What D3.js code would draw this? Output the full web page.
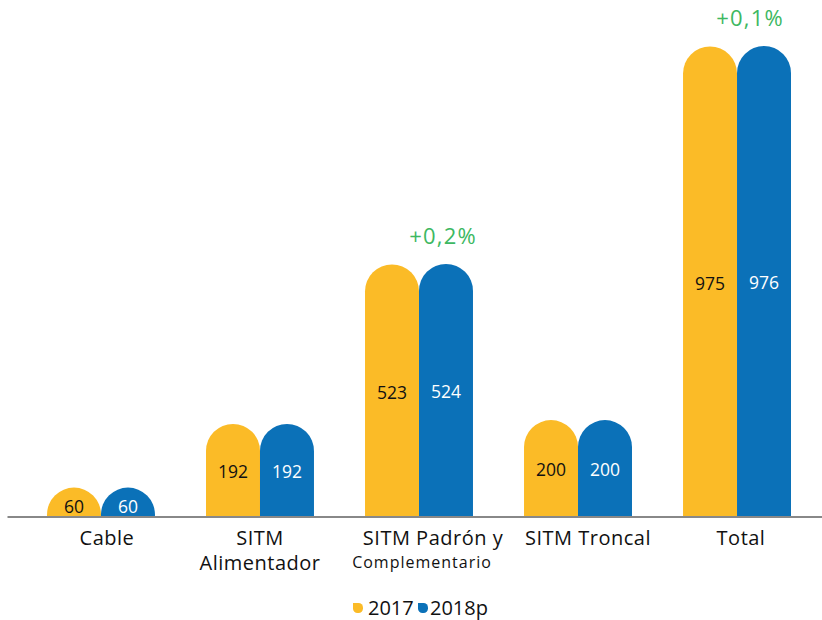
<!DOCTYPE html>
<html>
<head>
<meta charset="utf-8">
<script src="https://cdn.jsdelivr.net/npm/d3@7"></script>
<style>
  body { margin: 0; background: #fff; }
  text { font-family: 'Open Sans', sans-serif; }
</style>
</head>
<body>
<svg id="chart"></svg>
<script>
const categories = ['Cable', 'SITM Alimentador', 'SITM Padrón y Complementario', 'SITM Troncal', 'Total'];
const categoryLines = [['Cable'], ['SITM', 'Alimentador'], ['SITM Padrón y', 'Complementario'], ['SITM Troncal'], ['Total']];
const series = ['2017', '2018p'];
const values2017 = [60, 192, 523, 200, 975];
const values2018 = [60, 192, 524, 200, 976];
const changeLabels = ['', '', '+0,2%', '', '+0,1%'];

const WIDTH = 822;
const HEIGHT = 620;
const BASELINE = 516.5;
const COLORS = ['#FBBB27', '#0B71B8'];
// label nudges to match the source layout
const LABEL_SHIFT = [[6], [0, 0], [14, 3], [10], [4]];
const CHANGE_SHIFT = [0, 0, 24, 0, 13];

const svg = d3.select('#chart').attr('width', WIDTH).attr('height', HEIGHT);

const x = d3.scaleBand().domain(categories).range([47, 791]).paddingInner(0.321).paddingOuter(0);
const xs = d3.scaleBand().domain(series).range([0, x.bandwidth()]);
const y = d3.scaleLinear().domain([0, 975]).range([BASELINE, 46.5]);

const data = categories.map((c, i) => ({ cat: c, vals: [values2017[i], values2018[i]] }));

// bar with rounded top
const barPath = (x0, w, top) => {
  const r = w / 2;
  return `M${x0},${BASELINE}V${top + r}A${r},${r} 0 0 1 ${x0 + w},${top + r}V${BASELINE}Z`;
};

const groups = svg.selectAll('.group').data(data).enter().append('g')
  .attr('transform', (d) => `translate(${x(d.cat)},0)`);

groups.selectAll('.bar').data((d) => d.vals.map((v, j) => ({ v, s: series[j], j })))
  .enter().append('path')
  .attr('d', (d) => barPath(xs(d.s), xs.bandwidth(), y(d.v)))
  .attr('fill', (d) => COLORS[d.j]);

groups.selectAll('.val').data((d) => d.vals.map((v, j) => ({ v, s: series[j], j })))
  .enter().append('text')
  .attr('x', (d) => xs(d.s) + xs.bandwidth() / 2)
  .attr('y', (d) => d.v < 100 ? BASELINE - 10 : (y(d.v) + BASELINE) / 2 + 2)
  .attr('dy', '0.35em')
  .attr('text-anchor', 'middle')
  .style('font-size', '17.5px')
  .attr('fill', (d) => d.j === 0 ? '#111' : '#fff')
  .text((d) => d.v);

// change labels
svg.selectAll('.chg').data(data).enter().append('text')
  .attr('x', (d, i) => x(d.cat) + x.bandwidth() / 2 + CHANGE_SHIFT[i])
  .attr('y', (d) => y(Math.max(...d.vals)) - 28)
  .attr('dy', '0.35em')
  .attr('text-anchor', 'middle')
  .style('font-size', '22px')
  .style('letter-spacing', '1.2px')
  .attr('fill', '#3DB862')
  .text((d, i) => changeLabels[i]);

// axis line
svg.append('g')
  .attr('transform', `translate(0,${BASELINE})`)
  .call(d3.axisBottom(d3.scaleLinear().range([7, 822])).ticks(0).tickSizeOuter(0))
  .call((g) => g.select('.domain').attr('stroke', '#888').attr('stroke-width', 2));

// category labels
groups.each(function (d, i) {
  const g = d3.select(this);
  categoryLines[i].forEach((line, k) => {
    const small = line === 'Complementario';
    g.append('text')
      .attr('x', x.bandwidth() / 2 + LABEL_SHIFT[i][k])
      .attr('y', small ? 562.5 : 537.5 + k * 25)
      .attr('dy', '0.35em')
      .attr('text-anchor', 'middle')
      .style('font-size', small ? '16px' : '20px')
      .style('letter-spacing', small ? '1px' : '0.5px')
      .attr('fill', '#111')
      .text(line);
  });
});

// legend
const legend = svg.append('g').attr('transform', 'translate(353,603)');
const legendItems = [{ s: '2017', x: 0, tx: 15 }, { s: '2018p', x: 65, tx: 77 }];
legendItems.forEach((it, j) => {
  const s = 10, r = 4.5;
  legend.append('path')
    .attr('d', `M${it.x},0H${it.x + s - r}A${r},${r} 0 0 1 ${it.x + s},${r}V${s - r}A${r},${r} 0 0 1 ${it.x + s - r},${s}H${it.x + r}A${r},${r} 0 0 1 ${it.x},${s - r}Z`)
    .attr('fill', COLORS[j]);
  legend.append('text')
    .attr('x', it.tx)
    .attr('y', 5)
    .attr('dy', '0.35em')
    .style('font-size', '20px')
    .attr('fill', '#111')
    .text(it.s);
});
</script>
</body>
</html>
